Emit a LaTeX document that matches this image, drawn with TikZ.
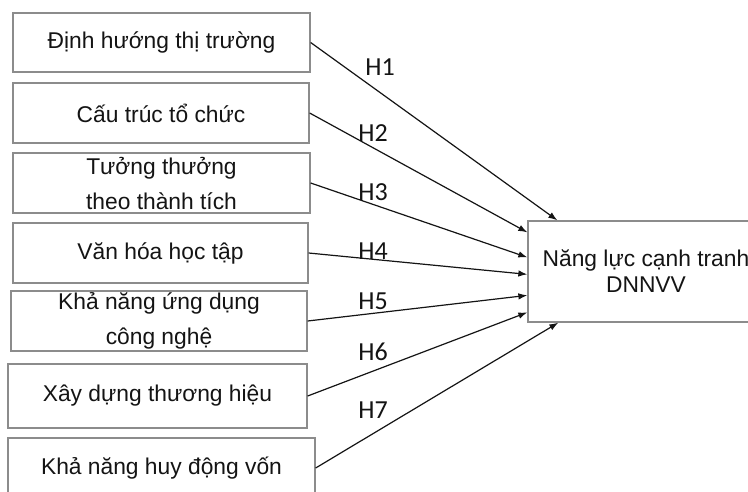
\documentclass[tikz,border=0pt]{standalone}
\usepackage{fontspec}
\setmainfont{Liberation Sans}
\newfontfamily\hfont{Carlito}
\usetikzlibrary{arrows.meta,calc}
\definecolor{boxgray}{HTML}{8C8C8C}
\definecolor{ink}{HTML}{141414}
\tikzset{
  srcbox/.style={draw=boxgray, line width=1.3pt, fill=white, text=ink, align=center,
    inner sep=0pt, font=\fontsize{22.8}{35}\selectfont},
  hlabel/.style={text=ink, inner sep=0pt, font=\hfont\fontsize{26}{28}\selectfont},
  conn/.style={draw=ink, line width=1.2pt, -{Latex[length=9pt,width=6.5pt]}}
}
\begin{document}
\begin{tikzpicture}[x=1pt,y=-1pt]
\clip (0,0) rectangle (748,491);
\fill[white] (0,0) rectangle (748,491);
\node[srcbox, minimum width=297pt, minimum height=59pt] (b1) at (161.5,42.5) {Định hướng thị trường};
\node[srcbox, minimum width=296pt, minimum height=60pt] (b2) at (161,113) {Cấu trúc tổ chức};
\node[srcbox, minimum width=297pt, minimum height=60pt] (b3) at (161.5,183) {Tưởng thưởng\\ theo thành tích};
\node[srcbox, minimum width=295pt, minimum height=60pt] (b4) at (160.5,253) {Văn hóa học tập};
\node[srcbox, minimum width=296pt, minimum height=60pt] (b5) at (159,321) {Khả năng ứng dụng\\ công nghệ};
\node[srcbox, minimum width=299pt, minimum height=64pt] (b6) at (157.5,396) {Xây dựng thương hiệu};
\node[srcbox, minimum width=307pt, minimum height=60pt] (b7) at (161.5,468) {Khả năng huy động vốn};
\node[srcbox, minimum width=300pt, minimum height=101pt, font=\fontsize{22.8}{26}\selectfont] (t) at (678,271.5) {};
\node[text=ink, align=center, inner sep=0pt, font=\fontsize{22.8}{26}\selectfont] (tt) at (646,271.5) {Năng lực cạnh tranh\\DNNVV};
\coordinate (e1) at ($(t.north west)+(30,0)$);
\coordinate (e2) at ($(t.north west)+(0,12)$);
\coordinate (e3) at ($(t.north west)+(0,37)$);
\coordinate (e4) at ($(t.north west)+(0,54)$);
\coordinate (e5) at ($(t.north west)+(0,75)$);
\coordinate (e6) at ($(t.north west)+(0,92)$);
\coordinate (e7) at ($(t.south west)+(31,0)$);
\draw[conn] (b1.east) -- (e1);
\draw[conn] (b2.east) -- (e2);
\draw[conn] (b3.east) -- (e3);
\draw[conn] (b4.east) -- (e4);
\draw[conn] (b5.east) -- (e5);
\draw[conn] (b6.east) -- (e6);
\draw[conn] (b7.east) -- (e7);
\node[hlabel] (h1) at (380,67) {H1};
\node[hlabel] (h2) at (373,133) {H2};
\node[hlabel] (h3) at (373,192) {H3};
\node[hlabel] (h4) at (373,251) {H4};
\node[hlabel] (h5) at (373,301) {H5};
\node[hlabel] (h6) at (373,352) {H6};
\node[hlabel] (h7) at (373,410) {H7};
\end{tikzpicture}
\end{document}
